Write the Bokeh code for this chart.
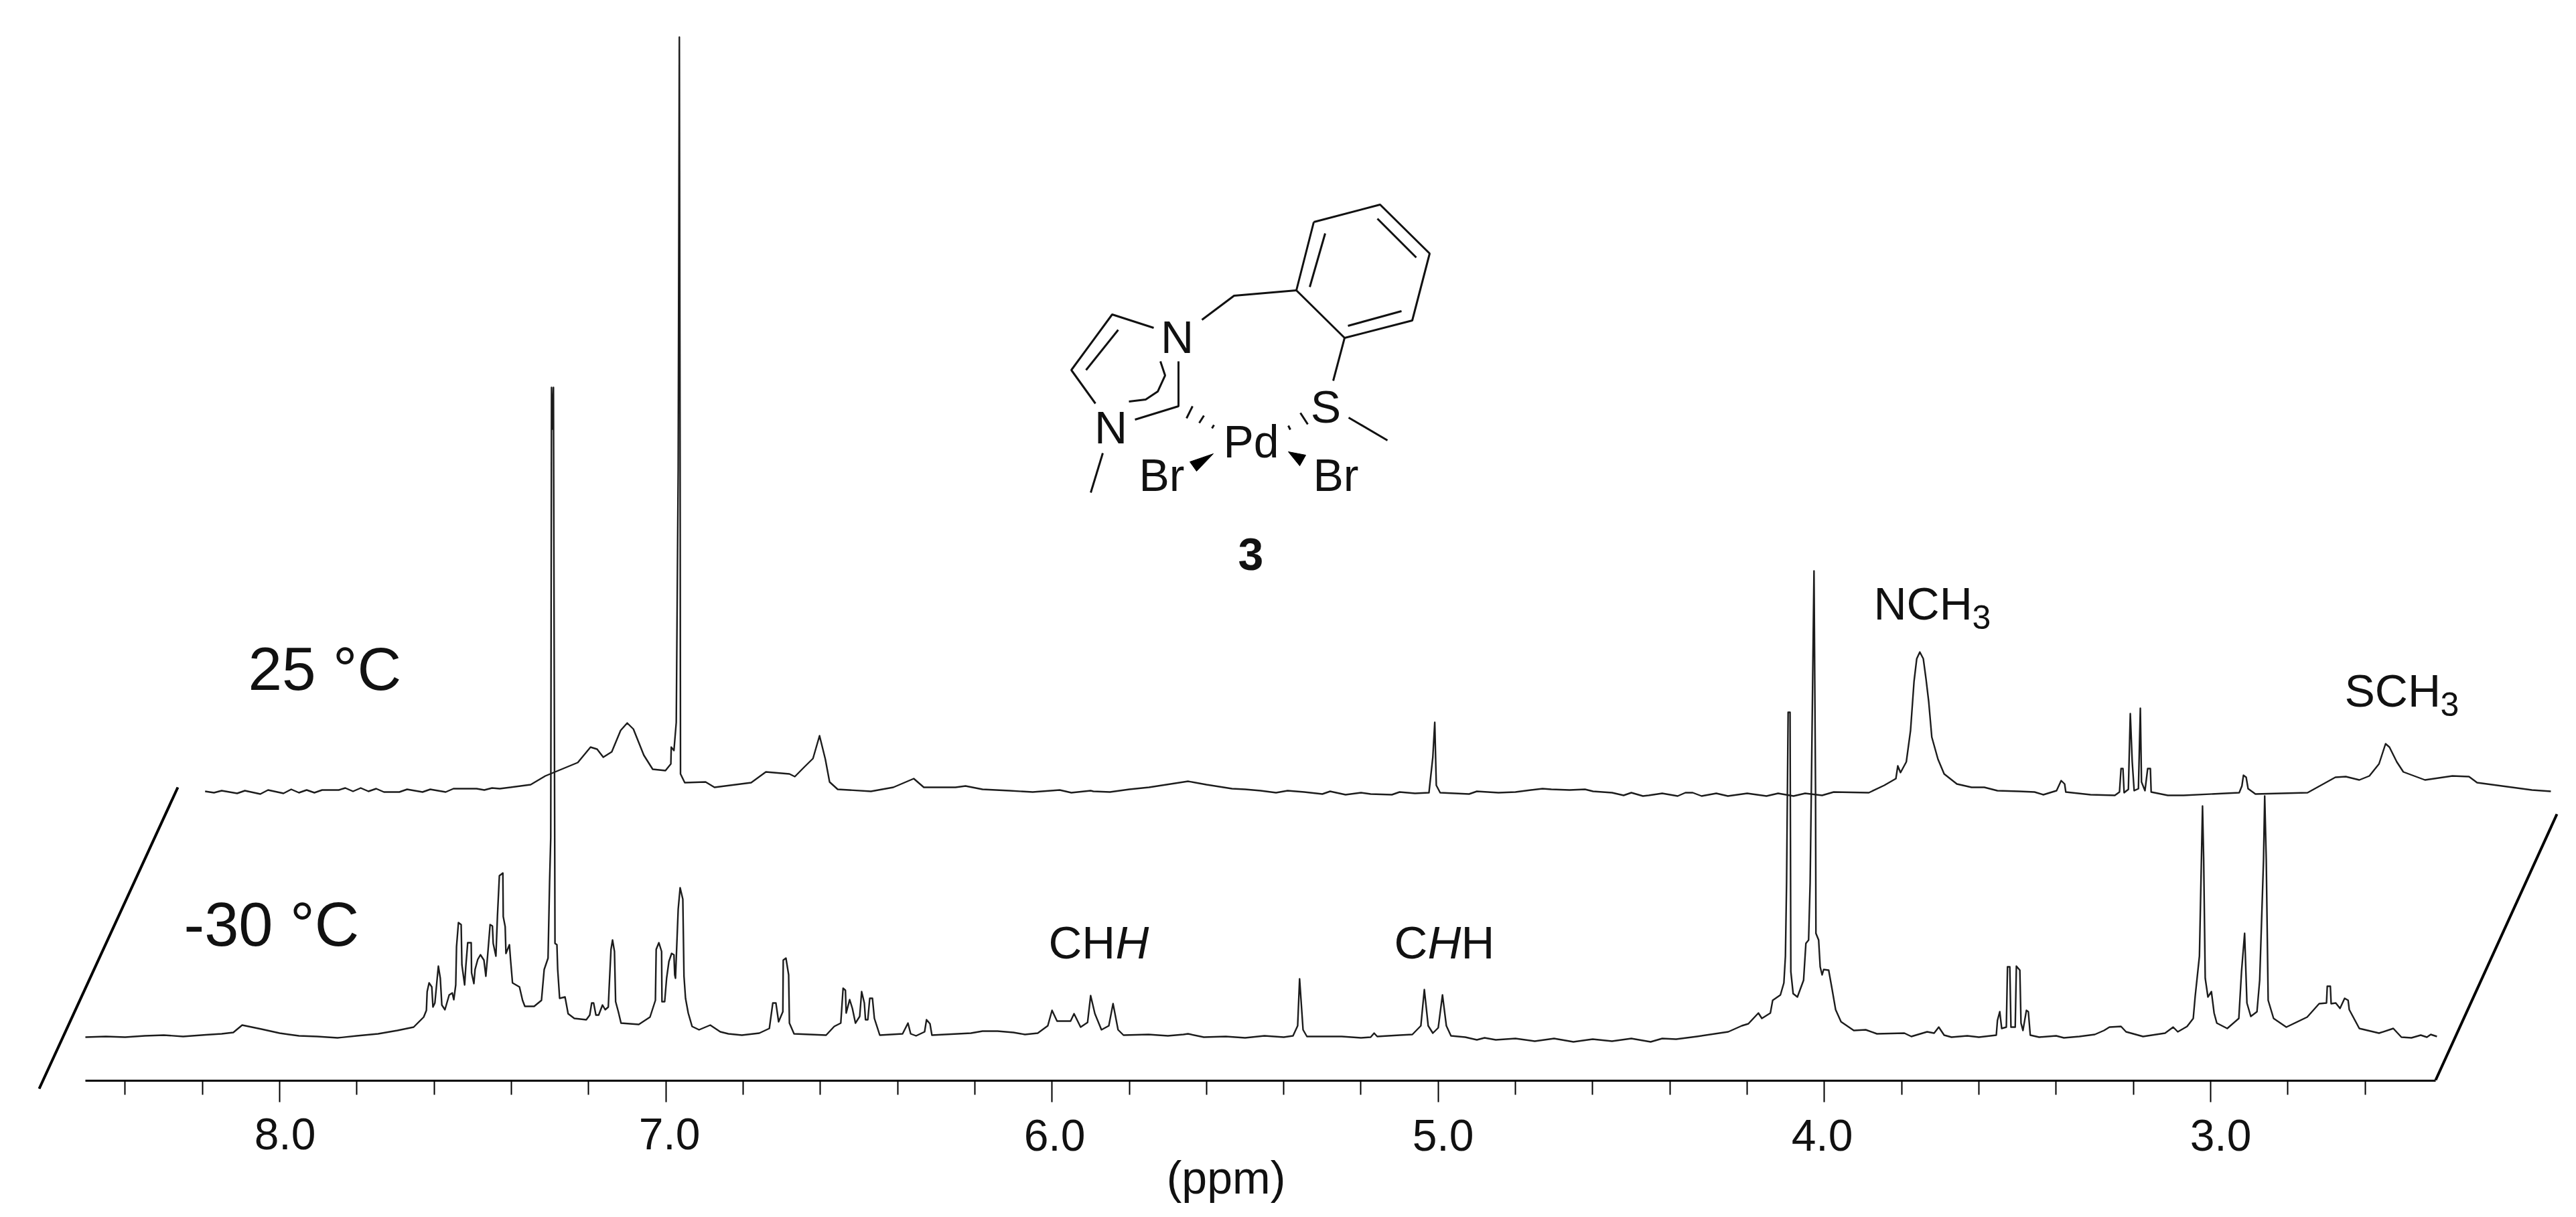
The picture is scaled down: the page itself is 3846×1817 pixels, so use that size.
from bokeh.plotting import figure
from bokeh.models import Range1d, LinearAxis, FixedTicker
from bokeh.core.properties import value
from bokeh.embed import file_html
from bokeh.resources import INLINE

# -30 C spectrum: chemical shift (ppm) and height above its own baseline
ppm_low = [8.503,8.349,8.191,8.097,8.047,7.976,7.903,7.745,7.695,7.653,7.627,7.620,7.618,7.613,7.606,7.603,7.598,7.592,7.589,7.584,7.580,7.572,7.561,7.553,7.549,7.544,7.542,7.537,7.530,7.528,7.521,7.518,7.513,7.504,7.503,7.497,7.494,7.487,7.480,7.471,7.466,7.461,7.455,7.449,7.447,7.440,7.436,7.431,7.422,7.421,7.416,7.414,7.405,7.402,7.397,7.379,7.371,7.365,7.341,7.322,7.315,7.305,7.301,7.298,7.296,7.293,7.291,7.287,7.282,7.280,7.275,7.261,7.253,7.237,7.206,7.197,7.192,7.187,7.181,7.174,7.164,7.157,7.149,7.147,7.142,7.138,7.133,7.130,7.123,7.116,7.070,7.041,7.027,7.025,7.018,7.011,7.010,7.003,6.998,6.992,6.985,6.979,6.977,6.975,6.968,6.963,6.956,6.953,6.949,6.942,6.932,6.914,6.885,6.859,6.838,6.803,6.758,6.732,6.723,6.715,6.708,6.697,6.696,6.689,6.682,6.680,6.668,6.585,6.564,6.547,6.541,6.535,6.533,6.524,6.517,6.509,6.498,6.493,6.486,6.483,6.477,6.472,6.465,6.460,6.446,6.387,6.373,6.366,6.352,6.330,6.325,6.316,6.311,6.210,6.141,6.037,6.011,6.000,5.987,5.952,5.943,5.926,5.908,5.900,5.889,5.872,5.853,5.842,5.829,5.815,5.648,5.607,5.376,5.364,5.359,5.350,5.340,5.175,5.166,5.158,5.067,5.045,5.036,5.026,5.014,5.000,4.989,4.979,4.967,4.851,4.613,4.384,4.330,4.249,4.214,4.197,4.171,4.162,4.140,4.134,4.114,4.105,4.101,4.098,4.094,4.089,4.088,4.087,4.081,4.070,4.054,4.048,4.041,4.037,4.034,4.027,4.023,4.022,4.015,4.011,4.006,4.002,3.989,3.980,3.971,3.957,3.924,3.893,3.864,3.793,3.775,3.734,3.716,3.704,3.690,3.671,3.555,3.552,3.546,3.541,3.529,3.526,3.520,3.517,3.506,3.503,3.494,3.491,3.486,3.477,3.472,3.467,3.444,3.340,3.276,3.262,3.232,3.219,3.175,3.118,3.097,3.085,3.061,3.045,3.040,3.029,3.021,3.018,3.014,3.007,2.998,2.991,2.984,2.957,2.927,2.920,2.912,2.906,2.896,2.880,2.873,2.863,2.860,2.856,2.851,2.837,2.804,2.750,2.719,2.700,2.698,2.690,2.688,2.676,2.665,2.653,2.644,2.641,2.615,2.564,2.527,2.506,2.456,2.414]
int_low = [-1,1,2.5,17,11,3,0,4,9,14,29,39,67,80,74,44,50,87,105,87,47,40,62,65,55,77,134,170,167,107,77,104,140,140,95,79,100,115,122,114,90,124,167,165,139,120,180,240,244,179,164,124,137,114,80,74,54,45,45,54,100,117,230,297,969,907,969,139,137,100,57,59,34,27,25,32,50,50,32,32,47,40,44,70,130,144,127,52,37,20,18,29,54,130,140,127,52,52,87,112,124,122,92,87,190,222,205,90,57,35,15,10,17,7,4,2,5,12,50,50,22,37,114,117,92,20,4,2,15,20,72,69,35,55,42,20,30,67,50,25,25,57,57,27,2,4,20,4,1,7,25,19,2,5,8,5,16,39,23,23,34,14,21,61,34,10,16,49,10,2,4,-1,1,16,86,10,0,-1,5,0,3,16,70,16,5,13,62,16,1,-5,-5,-4,0,7,16,19,35,27,35,54,62,80,120,230,484,484,297,97,64,59,84,139,144,230,364,695,364,154,144,104,92,100,99,70,40,22,9,10,4,5,0,7,5,14,2,-1,2,24,37,12,14,104,104,14,14,105,99,20,9,39,37,2,-1,0,9,14,15,7,0,5,14,7,15,27,60,120,344,264,87,59,67,35,20,12,27,97,154,50,30,37,84,264,359,264,54,27,14,29,49,50,75,75,49,50,42,57,54,40,12,5,12,-1,2,0]
# fine ripple read along the flat stretches of the -30 C trace
ppm_low_ripple = [8.45,8.40,8.30,8.25,8.15,8.12,8.00,7.95,7.85,7.80,6.18,6.10,6.07,5.75,5.70,5.66,5.55,5.50,5.45,5.40,5.25,5.20,5.10,4.93,4.90,4.88,4.80,4.75,4.70,4.65,4.60,4.55,4.50,4.45,4.42,3.63,3.60,3.40,3.38,3.30,2.48,2.44,2.43]
int_low_ripple = [0,-1,2,0,4,6,5,1,-2,1,8,6,3,3,1,3,0,-2,1,-1,0,-2,2,-1,-5,-2,-3,-7,-3,-8,-4,-7,-3,-8,-3,1,-1,1,-2,3,-2,-1,3]

# 25 C spectrum: chemical shift (ppm) and height above its own baseline
ppm_high = [8.193,7.847,7.516,7.350,7.312,7.228,7.195,7.178,7.162,7.140,7.117,7.100,7.084,7.057,7.034,7.001,6.987,6.986,6.979,6.973,6.968,6.965,6.963,6.962,6.951,6.897,6.874,6.779,6.741,6.680,6.666,6.642,6.619,6.602,6.587,6.576,6.555,6.469,6.411,6.358,6.332,6.224,6.110,5.893,5.749,5.648,5.534,5.347,5.175,5.024,5.014,5.009,5.005,4.995,4.844,4.707,4.599,4.455,4.341,4.318,4.006,3.976,3.885,3.845,3.815,3.810,3.803,3.788,3.777,3.768,3.761,3.753,3.744,3.737,3.730,3.722,3.706,3.690,3.657,3.619,3.586,3.552,3.496,3.456,3.433,3.399,3.387,3.378,3.375,3.311,3.248,3.236,3.232,3.227,3.224,3.213,3.208,3.203,3.198,3.187,3.182,3.179,3.170,3.163,3.156,3.154,3.111,3.070,2.926,2.919,2.915,2.908,2.903,2.884,2.749,2.677,2.650,2.615,2.589,2.564,2.547,2.537,2.518,2.501,2.445,2.374,2.331,2.310,2.168,2.119]
int_high = [-1,1,3,9,22,42,65,62,50,58,90,101,92,53,32,30,40,65,60,102,480,1125,480,25,12,13,5,12,28,25,21,35,48,82,47,13,2,-1,5,18,5,7,0,-1,5,14,3,-2,-5,-3,50,102,8,-3,-3,2,-1,-7,-3,-8,-7,-2,-3,8,18,37,27,43,90,163,197,207,197,167,133,80,47,25,10,5,5,0,-1,-2,-6,0,15,10,-2,-6,-7,-2,33,33,-3,2,115,43,0,3,123,13,0,33,33,-2,-7,-7,-3,7,23,20,3,-5,-3,20,21,16,22,40,70,65,43,28,16,22,21,12,1,-1]
# fine ripple read along the flat stretches of the 25 C trace
ppm_high_ripple = [8.17,8.15,8.11,8.09,8.05,8.03,7.99,7.97,7.95,7.93,7.91,7.89,7.83,7.81,7.79,7.77,7.75,7.73,7.69,7.67,7.63,7.61,7.57,7.55,7.49,7.47,7.45,7.43,6.25,6.18,6.05,5.98,5.95,5.90,5.85,5.80,5.60,5.50,5.46,5.42,5.39,5.30,5.28,5.24,5.20,5.12,5.10,5.06,4.92,4.90,4.80,4.76,4.73,4.66,4.62,4.55,4.52,4.50,4.47,4.42,4.38,4.36,4.28,4.25,4.20,4.15,4.12,4.08,4.05]
int_high_ripple = [-3,0,-4,0,-5,1,-4,2,-3,1,-3,1,4,-1,4,-1,3,-2,-2,2,-2,2,-2,3,3,1,4,3,5,2,-2,1,-3,0,-2,2,9,2,0,-3,0,-5,-1,-6,-3,-6,-2,-4,-5,-1,-2,1,3,1,2,-3,-7,-3,-8,-4,-8,-3,-4,-8,-4,-8,-4,-8,-4]

baseline_low = 66
baseline_high = 433

major_ticks = [8.0, 7.0, 6.0, 5.0, 4.0, 3.0]
minor_ticks = [8.4,8.2,7.8,7.6,7.4,7.2,6.8,6.6,6.4,6.2,5.8,5.6,5.4,5.2,4.8,4.6,4.4,4.2,3.8,3.6,3.4,3.2,2.8,2.6]
tick_labels = ["8.0", "7.0", "6.0", "5.0", "4.0", "3.0"]

W, H = 3840, 1810
AXIS_Y = 1613
BASELINE_FIX = 0.36


def X(px):
    return 8 - (px - 417) / 576.6


def Y(py):
    return AXIS_Y - py


def merged(xs, ys, rx, ry, base):
    pts = sorted(list(zip(xs, ys)) + list(zip(rx, ry)), key=lambda t: -t[0])
    return [t[0] for t in pts], [t[1] + base for t in pts]


FONT = "Liberation Sans"
INK = "#1c1c1c"

p = figure(width=W, height=H, output_backend="svg", toolbar_location=None,
           x_range=Range1d(X(0), X(W)), y_range=Range1d(AXIS_Y - H, AXIS_Y),
           x_axis_type=None, y_axis_type=None,
           min_border_left=0, min_border_right=0, min_border_top=0, min_border_bottom=0)
p.outline_line_color = None
p.grid.visible = False

# spectra
lx, ly = merged(ppm_low, int_low, ppm_low_ripple, int_low_ripple, baseline_low)
hx, hy = merged(ppm_high, int_high, ppm_high_ripple, int_high_ripple, baseline_high)
p.line(lx, ly, line_color=INK, line_width=2.4, line_join="round")
p.line(hx, hy, line_color=INK, line_width=2.4, line_join="round")

# axis
axis = LinearAxis(ticker=FixedTicker(ticks=major_ticks, minor_ticks=minor_ticks),
                  major_label_overrides={t: "" for t in major_ticks},
                  bounds=(X(3636), X(127)), fixed_location=0)
axis.axis_line_color = "black"
axis.axis_line_width = 3
axis.major_tick_line_color = "black"
axis.major_tick_line_width = 2
axis.minor_tick_line_color = "black"
axis.minor_tick_line_width = 2
axis.major_tick_in = 0
axis.major_tick_out = 32
axis.minor_tick_in = 0
axis.minor_tick_out = 21
p.add_layout(axis, "below")


def txt(s, px, py, size=68, align="left", style="normal"):
    p.text([X(px)], [Y(py - BASELINE_FIX * size)], text=[s], text_font=value(FONT),
           text_font_size=value(f"{size}px"), text_color="#111111", text_align=align,
           text_baseline="alphabetic", text_font_style=style)


# tick labels, as they sit in the picture
for s, cx, by in zip(tick_labels, [425, 999, 1574, 2154, 2720, 3315], [1716, 1716, 1718, 1718, 1718, 1718]):
    txt(s, cx, by, 66, "center")
txt("(ppm)", 1830, 1782, 68, "center")

# temperature labels
txt("25 °C", 370, 1031, 91)
txt("-30 °C", 274, 1413, 92)

# assignments
txt("CH", 1565, 1432, 69)
txt("H", 1665, 1432, 69, style="italic")
txt("C", 2081, 1432, 69)
txt("H", 2131, 1432, 69, style="italic")
txt("H", 2181, 1432, 69)
txt("NCH", 2797, 925, 68)
txt("3", 2944, 939, 50)
txt("SCH", 3500, 1055, 68)
txt("3", 3643, 1069, 50)

# skewed frame of the stacked plot
for (x0, y0, x1, y1) in [(58, 1625, 265, 1175), (3636, 1612, 3817, 1215)]:
    p.line([X(x0), X(x1)], [Y(y0), Y(y1)], line_color="black", line_width=4)

# structure drawing
bonds = [
    [(1961,331),(2060,305),(2134,378),(2108,478),(2007,504),(1935,433),(1961,331)],
    [(1978,348),(1955,428)], [(2056,326),(2114,384)], [(2012,486),(2092,464)],
    [(1935,433),(1842,441),(1794,477)],
    [(2007,504),(1990,568)], [(2013,623),(2071,657)],
    [(1722,489),(1660,469),(1599,552),(1635,602)], [(1669,492),(1621,552)],
    [(1759,539),(1759,606),(1694,626)],
    [(1732,539),(1739,560),(1728,584),(1710,596),(1685,599)],
    [(1646,676),(1628,735)],
    [(1780,606),(1771,624)], [(1797,620),(1790,631)], [(1812,634),(1809,639)],
    [(1941,616),(1952,633)], [(1923,635),(1926,641)],
]
for b in bonds:
    p.line([X(q[0]) for q in b], [Y(q[1]) for q in b], line_color="#111111", line_width=3)
for w in [[(1811,677),(1776,689),(1786,703)], [(1923,674),(1949,679),(1940,695)]]:
    p.patch([X(q[0]) for q in w], [Y(q[1]) for q in w], color="black")

txt("N", 1757, 527, 68, "center")
txt("N", 1658, 662, 68, "center")
txt("S", 1979, 631, 68, "center")
txt("Pd", 1826, 683, 68)
txt("Br", 1700, 733, 68)
txt("Br", 1960, 733, 68)
txt("3", 1867, 851, 68, "center", "bold")

open("out.html", "w").write(file_html(p, INLINE))
